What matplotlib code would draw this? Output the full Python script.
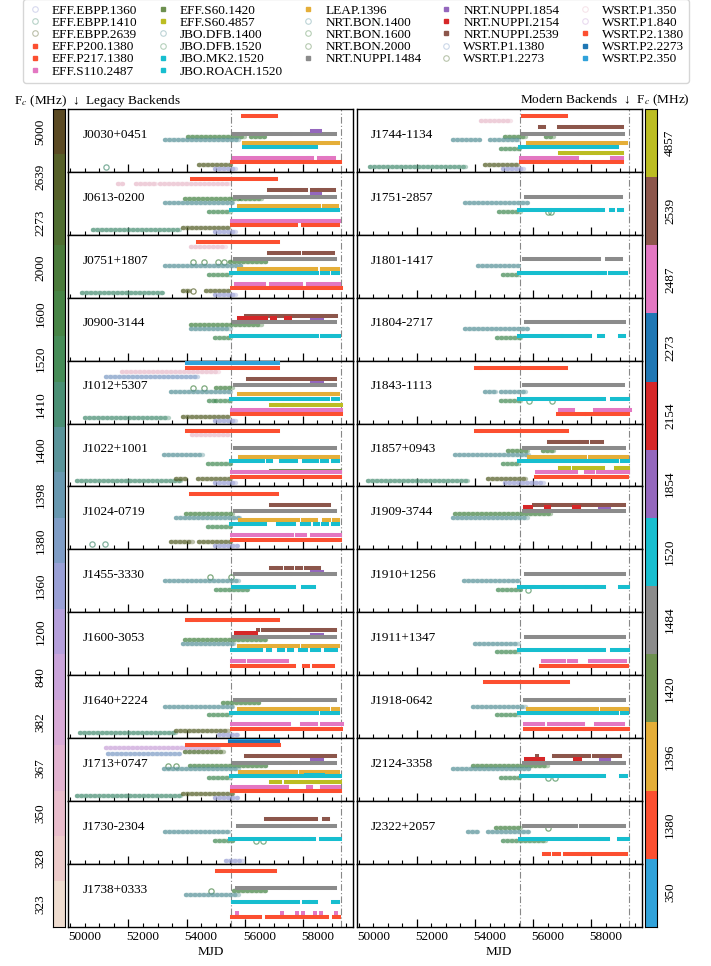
import numpy as np
import matplotlib.pyplot as plt
from matplotlib.colors import ListedColormap
from matplotlib.lines import Line2D
from matplotlib.ticker import FixedLocator, MultipleLocator, NullFormatter, FuncFormatter

plt.rcParams['font.family'] = ['Liberation Serif', 'DejaVu Serif']
plt.rcParams['mathtext.fontset'] = 'stix'
plt.rcParams['font.size'] = 9.5

# centre frequencies shown in the two colour bars
LEGACY_FREQS = [5000, 2639, 2273, 2000, 1600, 1520, 1410, 1400, 1398,
                1380, 1360, 1200, 840, 382, 367, 350, 328, 323]
LEGACY_COLORS = ['#5b4a23', '#566028', '#4f6d30', '#4a7a3a', '#478445', '#468c57',
                 '#4a8f74', '#5a949a', '#6898b0', '#7f9dc6', '#9aa0d6', '#b59fdb',
                 '#caa4da', '#d8aad6', '#e2b3d0', '#e9bdcc', '#eccac9', '#eedccf']
MODERN_FREQS = [4857, 2539, 2487, 2273, 2154, 1854, 1520, 1484, 1420, 1396, 1380, 350]
MODERN_COLORS = ['#bcbd22', '#8c564b', '#e377c2', '#1f77b4', '#d62728', '#9467bd',
                 '#17becf', '#8b8b8b', '#6d904f', '#e5ae38', '#fc4f30', '#30a2da']

BACKENDS = ['EFF.EBPP.1360', 'EFF.EBPP.1410', 'EFF.EBPP.2639', 'EFF.P200.1380',
            'EFF.P217.1380', 'EFF.S110.2487', 'EFF.S60.1420', 'EFF.S60.4857',
            'JBO.DFB.1400', 'JBO.DFB.1520', 'JBO.MK2.1520', 'JBO.ROACH.1520',
            'LEAP.1396', 'NRT.BON.1400', 'NRT.BON.1600', 'NRT.BON.2000',
            'NRT.NUPPI.1484', 'NRT.NUPPI.1854', 'NRT.NUPPI.2154', 'NRT.NUPPI.2539',
            'WSRT.P1.1380', 'WSRT.P1.2273', 'WSRT.P1.350', 'WSRT.P1.840',
            'WSRT.P2.1380', 'WSRT.P2.2273', 'WSRT.P2.350']
LEGACY = ('EFF.EBPP', 'JBO.DFB', 'NRT.BON', 'WSRT.P1')

XTICK_LABELS = [50000, 52000, 54000, 56000, 58000]
LONG_TICKS = [51500, 53500, 55500, 57500]
ERA_LINES = [55040, 58810]

# observation spans (start MJD, end MJD) per backend
J0030 = {'WSRT.P2.1380': [(55450, 56570)],
         'NRT.NUPPI.1484': [(55140, 57060), (57110, 58600)],
         'NRT.NUPPI.1854': [(57800, 58090)],
         'NRT.BON.1600': [(53550, 55500), (55700, 56200)],
         'NRT.BON.1400': [(52740, 55310)],
         'LEAP.1396': [(55460, 57370), (57430, 57770), (57860, 58710)],
         'JBO.ROACH.1520': [(55460, 56230), (56290, 56910), (56970, 57260), (57320, 57720), (57800, 57940)],
         'EFF.S110.2487': [(55140, 57660), (57720, 57830), (58040, 58290), (58380, 58570)],
         'EFF.P217.1380': [(55060, 57370), (57430, 58120), (58150, 58770)],
         'EFF.EBPP.2639': [(53940, 55030)],
         'EFF.EBPP.1410': [(50720, 50720)],
         'EFF.EBPP.1360': [(54460, 55200)]}
J0613 = {'WSRT.P2.1380': [(53690, 56570)],
         'WSRT.P1.350': [(51140, 51310), (51750, 52460), (52570, 54970)],
         'NRT.NUPPI.2539': [(56320, 57370), (57490, 57600), (57800, 58000), (58080, 58570)],
         'NRT.NUPPI.1854': [(57830, 58080)],
         'NRT.NUPPI.1484': [(55170, 57030), (57120, 58610)],
         'NRT.BON.1600': [(53430, 55310), (55370, 56110)],
         'NRT.BON.1400': [(52740, 55090)],
         'LEAP.1396': [(55310, 57370), (57490, 57690), (57830, 58040), (58230, 58690)],
         'JBO.ROACH.1520': [(55030, 57350), (57460, 57690), (57800, 58040), (58170, 58380), (58490, 58720)],
         'JBO.DFB.1520': [(54260, 55030)],
         'EFF.S110.2487': [(55060, 57490), (57540, 57620), (57720, 58740)],
         'EFF.P217.1380': [(55060, 57260), (57490, 58720)],
         'EFF.EBPP.1410': [(50290, 53260)],
         'EFF.EBPP.2639': [(53370, 54970)],
         'EFF.EBPP.1360': [(54460, 55200)]}
J0751 = {'WSRT.P2.1380': [(53890, 56630)],
         'WSRT.P1.350': [(53660, 54860)],
         'NRT.NUPPI.2539': [(56320, 57370), (57540, 58170), (58290, 58520)],
         'NRT.NUPPI.1484': [(55170, 57030), (57120, 58610)],
         'NRT.BON.1600': [(53710, 53710), (54110, 54110), (54570, 54570), (54800, 54800), (55000, 56230)],
         'NRT.BON.1400': [(52740, 55370)],
         'LEAP.1396': [(55310, 57320), (57430, 57660), (57830, 57940), (58170, 58720)],
         'JBO.ROACH.1520': [(55010, 57320), (57460, 57660), (57810, 58000), (58170, 58380), (58520, 58720)],
         'JBO.DFB.1520': [(54260, 55030)],
         'EFF.S110.2487': [(55200, 55890), (55950, 56170), (56420, 56690), (56740, 56920), (57030, 57430), (57660, 58740)],
         'EFF.P217.1380': [(55060, 57430), (57490, 58800)],
         'EFF.EBPP.1410': [(49890, 52690)],
         'EFF.EBPP.2639': [(53370, 53600), (53710, 53710), (54170, 54970)],
         'EFF.EBPP.1360': [(54460, 55200)]}
J0900 = {'NRT.NUPPI.2539': [(55540, 58630)],
         'NRT.NUPPI.2154': [(55290, 55750), (55790, 56230), (56430, 56550), (56920, 57050)],
         'NRT.NUPPI.1854': [(57810, 58170)],
         'NRT.NUPPI.1484': [(55140, 57030), (57120, 58610)],
         'NRT.BON.1600': [(53660, 56110)],
         'NRT.BON.1400': [(53660, 55030)],
         'JBO.ROACH.1520': [(55030, 57690), (57810, 57970), (58150, 58420), (58520, 58740)],
         'JBO.DFB.1520': [(54460, 55030)]}
J1012 = {'WSRT.P2.350': [(53520, 53600), (53700, 53800), (53900, 56660)],
         'WSRT.P2.1380': [(53520, 56630)],
         'WSRT.P1.350': [(51260, 54630)],
         'WSRT.P1.1380': [(50740, 53890)],
         'NRT.NUPPI.2539': [(55600, 58610)],
         'NRT.NUPPI.1854': [(57810, 58170)],
         'NRT.NUPPI.1484': [(55170, 57030), (57120, 58610)],
         'NRT.BON.1600': [(53710, 53710), (54110, 54110), (54510, 55090)],
         'NRT.BON.1400': [(52970, 55030)],
         'LEAP.1396': [(55310, 57340), (57430, 57690), (57830, 57970), (58120, 58420), (58490, 58720)],
         'JBO.ROACH.1520': [(55010, 57340), (57460, 57660), (57810, 58380), (58520, 58720)],
         'JBO.DFB.1520': [(54260, 54490), (54510, 55030)],
         'EFF.S60.4857': [(56400, 56550), (56630, 56770), (56860, 58800)],
         'EFF.S110.2487': [(55060, 57080), (57200, 57600), (57720, 58800)],
         'EFF.P217.1380': [(55060, 58800)],
         'EFF.EBPP.1410': [(50000, 52910)],
         'EFF.EBPP.2639': [(53370, 54970)],
         'EFF.EBPP.1360': [(54460, 55200)]}
J1022 = {'WSRT.P2.1380': [(53520, 53620), (53690, 56630)],
         'WSRT.P1.350': [(53690, 54970)],
         'NRT.NUPPI.1484': [(55180, 57080), (57140, 58600)],
         'NRT.BON.1400': [(52720, 54060)],
         'LEAP.1396': [(55320, 57370), (57430, 57720), (57830, 58710)],
         'JBO.ROACH.1520': [(55030, 56120), (56290, 56400), (56740, 57260), (57540, 57660), (57830, 58000), (58170, 58340), (58520, 58710)],
         'JBO.DFB.1520': [(54230, 55030)],
         'EFF.S60.1420': [(56400, 56570), (56630, 56740), (56860, 57540), (57660, 58520), (58610, 58770)],
         'EFF.S110.2487': [(55060, 58770)],
         'EFF.P217.1380': [(55060, 58770)],
         'EFF.EBPP.1410': [(49740, 53310)],
         'EFF.EBPP.2639': [(53140, 53490), (53890, 55030)],
         'EFF.EBPP.1360': [(54460, 55200)]}
J1024 = {'WSRT.P2.1380': [(53660, 56600)],
         'NRT.NUPPI.2539': [(56400, 58120), (58260, 58400)],
         'NRT.NUPPI.1484': [(55180, 57060), (57100, 58600)],
         'NRT.BON.1600': [(53490, 55090)],
         'NRT.BON.1400': [(53140, 55320)],
         'LEAP.1396': [(55320, 57320), (57490, 57660), (57770, 57940), (58230, 58400), (58570, 58710)],
         'JBO.ROACH.1520': [(55030, 56210), (56630, 56740), (56860, 57200), (57460, 57720), (57910, 58030), (58200, 58340), (58520, 58710)],
         'JBO.DFB.1520': [(54230, 55030)],
         'EFF.S110.2487': [(55060, 56940), (57000, 57140), (57290, 57570), (57800, 57940), (58080, 58460), (58550, 58770)],
         'EFF.P217.1380': [(55060, 56660), (56740, 57710), (57830, 58770)],
         'EFF.EBPP.1410': [(50260, 50260), (50690, 50690)],
         'EFF.EBPP.2639': [(52970, 53710), (53940, 55030)],
         'EFF.EBPP.1360': [(54460, 55260)]}
J1455 = {'NRT.NUPPI.2539': [(56400, 56570), (56630, 56740), (56920, 57120), (57290, 57430), (57620, 58040)],
         'NRT.NUPPI.1854': [(57810, 58150)],
         'NRT.NUPPI.1484': [(55180, 57060), (57130, 58600)],
         'NRT.BON.1600': [(54290, 54290), (55030, 55030)],
         'NRT.BON.1400': [(52740, 55310)],
         'JBO.ROACH.1520': [(55090, 55640), (55720, 57200), (57490, 57660), (57770, 57890)],
         'JBO.DFB.1520': [(54510, 55600)]}
J1600 = {'WSRT.P2.1380': [(53520, 53660), (53690, 53830), (53890, 56630)],
         'NRT.NUPPI.2539': [(55940, 55940), (56140, 58610)],
         'NRT.NUPPI.2154': [(55200, 55890)],
         'NRT.NUPPI.1854': [(57810, 58170)],
         'NRT.NUPPI.1484': [(55140, 57030), (57120, 58610)],
         'NRT.BON.1600': [(53430, 56230)],
         'NRT.BON.1400': [(53370, 55140)],
         'LEAP.1396': [(55310, 57320), (57490, 57720), (57860, 58060), (58170, 58720)],
         'JBO.ROACH.1520': [(55060, 56060), (56290, 56370), (56690, 56830), (57030, 57120), (57400, 57600), (57830, 58060), (58290, 58430), (58520, 58630)],
         'EFF.S110.2487': [(55060, 55490), (55660, 56970)],
         'EFF.P217.1380': [(55060, 57200), (57540, 57690), (57890, 58520)]}
J1640 = {'NRT.NUPPI.1484': [(55170, 57030), (57120, 58610)],
         'NRT.BON.1600': [(54740, 56000)],
         'NRT.BON.1400': [(52740, 55090)],
         'LEAP.1396': [(55310, 57320), (57430, 57660), (57830, 58040), (58140, 58380), (58520, 58720)],
         'JBO.ROACH.1520': [(55030, 57320), (57430, 57690), (57810, 58000), (58170, 58380), (58490, 58720)],
         'JBO.DFB.1520': [(54260, 55030)],
         'EFF.S110.2487': [(55060, 56000), (56060, 57030), (57460, 57660), (57720, 57940), (58170, 58460), (58570, 58860)],
         'EFF.P217.1380': [(55060, 58800)],
         'EFF.EBPP.1410': [(49830, 53140)],
         'EFF.EBPP.2639': [(53140, 54970)],
         'EFF.EBPP.1360': [(54630, 55260)]}
J1713 = {'WSRT.P2.350': [(55000, 56660)],
         'WSRT.P2.2273': [(55000, 56660)],
         'WSRT.P2.1380': [(53520, 53660), (53720, 56690)],
         'WSRT.P1.840': [(50740, 54630)],
         'WSRT.P1.2273': [(53430, 54800)],
         'WSRT.P1.1380': [(50800, 53260)],
         'NRT.NUPPI.2539': [(55540, 55890), (55980, 58600)],
         'NRT.NUPPI.1854': [(57810, 58150)],
         'NRT.NUPPI.1484': [(55140, 57030), (57080, 58600)],
         'NRT.BON.1600': [(52860, 52860), (53140, 53140), (53600, 56230)],
         'NRT.BON.1400': [(52720, 55310)],
         'LEAP.1396': [(55320, 57260), (57430, 57720), (57830, 58710)],
         'JBO.MK2.1520': [(57600, 58200)],
         'JBO.ROACH.1520': [(55030, 58770)],
         'JBO.DFB.1520': [(54260, 55030)],
         'EFF.S60.4857': [(56400, 56550), (56600, 56720), (56910, 58770)],
         'EFF.S110.2487': [(55060, 56970), (57660, 57770), (58150, 58740)],
         'EFF.P217.1380': [(55060, 58770)],
         'EFF.EBPP.1410': [(49740, 53310)],
         'EFF.EBPP.2639': [(53370, 55090)],
         'EFF.EBPP.1360': [(54460, 55260)]}
J1730 = {'NRT.NUPPI.2539': [(56230, 57940), (58230, 58380)],
         'NRT.NUPPI.1484': [(55260, 57030), (57110, 58600)],
         'NRT.BON.1400': [(52770, 54970)],
         'JBO.ROACH.1520': [(55000, 57430), (57540, 57660), (57770, 57890), (58120, 58770)],
         'JBO.DFB.1520': [(54490, 55090), (55890, 55890), (56120, 56120)],
         'EFF.EBPP.1360': [(54860, 55430)]}
J1738 = {'WSRT.P2.1380': [(54540, 56540)],
         'NRT.NUPPI.1484': [(55230, 57000), (57090, 58600)],
         'NRT.BON.1600': [(54340, 54340), (55140, 56230)],
         'NRT.BON.1400': [(53490, 55310)],
         'JBO.ROACH.1520': [(55090, 57320), (57540, 57660), (57770, 57940), (58520, 58710)],
         'EFF.S110.2487': [(55230, 55230), (56770, 56770), (57290, 57290), (57520, 57520), (57920, 57920), (58140, 58140), (58630, 58630)],
         'EFF.P217.1380': [(55060, 56020), (56260, 58340), (58570, 58740)]}
J1744 = {'WSRT.P2.1380': [(55150, 56630)],
         'WSRT.P1.350': [(53720, 54740)],
         'NRT.NUPPI.2539': [(55740, 55870), (56380, 57120), (57200, 58570)],
         'NRT.NUPPI.1484': [(55150, 57030), (57120, 58600)],
         'NRT.BON.1600': [(54520, 55260), (55940, 56230)],
         'NRT.BON.1400': [(52740, 53660), (54000, 55030)],
         'LEAP.1396': [(55320, 57720), (57870, 58690)],
         'JBO.ROACH.1520': [(55050, 57340), (57450, 57720), (57800, 58060), (58170, 58380)],
         'JBO.DFB.1520': [(54400, 55050)],
         'EFF.S60.4857': [(56420, 56550), (56610, 56720), (56880, 57620), (57770, 58550)],
         'EFF.S110.2487': [(55090, 57000), (58230, 58570)],
         'EFF.P217.1380': [(55090, 57200), (57290, 58570)],
         'EFF.EBPP.1410': [(49890, 53200)],
         'EFF.EBPP.2639': [(53830, 54970)],
         'EFF.EBPP.1360': [(54460, 55200)]}
J1751 = {'NRT.NUPPI.1484': [(55260, 57030), (57120, 58520)],
         'NRT.BON.1400': [(53140, 55320)],
         'JBO.ROACH.1520': [(55030, 56060), (56200, 56340), (56480, 57320), (57460, 57690), (57770, 57920), (58170, 58260), (58460, 58570)],
         'JBO.DFB.1520': [(54320, 55090), (56000, 56000), (56120, 56120)]}
J1801 = {'NRT.NUPPI.1484': [(55180, 57030), (57140, 57770), (58030, 58520)],
         'NRT.BON.1400': [(53600, 55030)],
         'JBO.ROACH.1520': [(55030, 57320), (57460, 57690), (57770, 57970), (58150, 58690)],
         'JBO.DFB.1520': [(54460, 55030)]}
J1804 = {'NRT.NUPPI.1484': [(55260, 57060), (57120, 58610)],
         'NRT.BON.1400': [(53140, 55320)],
         'JBO.ROACH.1520': [(55030, 56460), (56520, 57320), (57350, 57460), (57770, 57920), (58490, 58630)],
         'JBO.DFB.1520': [(54240, 55090)]}
J1843 = {'WSRT.P2.1380': [(53540, 53660), (53720, 56630)],
         'NRT.NUPPI.1484': [(55180, 57030), (57170, 58600)],
         'NRT.BON.1400': [(53830, 54230), (54400, 55260)],
         'JBO.ROACH.1520': [(55030, 57690), (57770, 57940), (58230, 58340), (58490, 58750)],
         'JBO.DFB.1520': [(54400, 55090), (55370, 55370), (56140, 56140)],
         'EFF.S110.2487': [(56440, 56860), (57640, 58820)],
         'EFF.P217.1380': [(56370, 57260), (57370, 57720), (57800, 58750)]}
J1857 = {'WSRT.P2.1380': [(53540, 53660), (53720, 56670)],
         'NRT.NUPPI.2539': [(56060, 57030), (57140, 57370), (57520, 57860)],
         'NRT.NUPPI.1484': [(55180, 57030), (57120, 58610)],
         'NRT.BON.1600': [(54630, 55320), (55830, 56230)],
         'NRT.BON.1400': [(52800, 55370)],
         'LEAP.1396': [(55370, 57290), (57460, 57690), (57810, 57970), (58060, 58400), (58520, 58720)],
         'JBO.ROACH.1520': [(55030, 57320), (57430, 57720), (57810, 58060), (58170, 58400), (58570, 58750)],
         'JBO.DFB.1520': [(54460, 55030)],
         'EFF.S60.4857': [(56440, 56550), (56600, 56720), (56920, 57890), (58350, 58460), (58520, 58750)],
         'EFF.S110.2487': [(55640, 56980), (57320, 57550), (57720, 58120), (58180, 58750)],
         'EFF.P217.1380': [(55600, 57200), (57260, 58720)],
         'EFF.EBPP.1410': [(49830, 53260)],
         'EFF.EBPP.2639': [(53950, 55260)],
         'EFF.EBPP.1360': [(54520, 55890)]}
J1909 = {'NRT.NUPPI.2539': [(55540, 58610)],
         'NRT.NUPPI.2154': [(55230, 55430), (55940, 56060), (56920, 57090)],
         'NRT.NUPPI.1854': [(57810, 58120)],
         'NRT.NUPPI.1484': [(55200, 57030), (57120, 58610)],
         'NRT.BON.1600': [(52800, 56110)],
         'NRT.BON.1400': [(52740, 55320)]}
J1910 = {'NRT.NUPPI.1484': [(55260, 57000), (57120, 58610)],
         'NRT.BON.1400': [(53120, 55030)],
         'JBO.ROACH.1520': [(55030, 55490), (55540, 56480), (56550, 57320), (57350, 57460), (57510, 57690), (57770, 57940), (58490, 58770)],
         'JBO.DFB.1520': [(54290, 55090), (55320, 55320)]}
J1911 = {'NRT.NUPPI.1484': [(55260, 57000), (57140, 58610)],
         'NRT.BON.1400': [(53490, 55030)],
         'JBO.ROACH.1520': [(55030, 57690), (57830, 57940), (58230, 58460), (58570, 58770)],
         'JBO.DFB.1520': [(54240, 55030)],
         'EFF.S110.2487': [(55830, 56550), (56720, 56980), (57440, 57580), (57640, 58660)],
         'EFF.P217.1380': [(55770, 58720)]}
J1918 = {'WSRT.P2.1380': [(53860, 56690)],
         'NRT.NUPPI.1484': [(55230, 57060), (57120, 58610)],
         'NRT.BON.1400': [(53430, 55260)],
         'LEAP.1396': [(55320, 57290), (57430, 57690), (57860, 58090), (58200, 58400), (58520, 58720)],
         'JBO.ROACH.1520': [(55030, 57290), (57430, 57690), (57800, 58060), (58170, 58400), (58550, 58720)],
         'JBO.DFB.1520': [(54240, 55030)],
         'EFF.S110.2487': [(55220, 55850), (56050, 56310), (56390, 56600), (56710, 56880), (56990, 57230), (57660, 57770), (57890, 58600)],
         'EFF.P217.1380': [(55220, 57240), (57300, 58170), (58230, 58780)]}
J2124 = {'NRT.NUPPI.2539': [(55620, 55620), (56230, 56840), (56950, 57410), (57600, 58120), (58210, 58480)],
         'NRT.NUPPI.2154': [(55240, 55850), (56950, 57110)],
         'NRT.NUPPI.1854': [(57830, 58120)],
         'NRT.NUPPI.1484': [(55170, 57030), (57120, 58630)],
         'NRT.BON.1600': [(53430, 56000)],
         'NRT.BON.1400': [(52740, 55350)],
         'JBO.ROACH.1520': [(55090, 56520), (56660, 57340), (57450, 57680), (57770, 57940), (58520, 58710)],
         'JBO.DFB.1520': [(54400, 55050), (56000, 56000), (56260, 56260)]}
J2322 = {'NRT.NUPPI.1484': [(55200, 56970), (57150, 58630)],
         'NRT.BON.1600': [(54230, 55090), (56000, 56000)],
         'NRT.BON.1400': [(53260, 53600), (53950, 55370)],
         'JBO.ROACH.1520': [(55050, 56990), (57060, 57720), (57830, 58060), (58460, 58780)],
         'JBO.DFB.1520': [(54460, 55940)],
         'EFF.P217.1380': [(55890, 56030), (56230, 56380), (56610, 57030), (57090, 57200), (57260, 57410), (57490, 58320), (58440, 58710)]}

LEFT = [('J0030+0451', J0030), ('J0613-0200', J0613), ('J0751+1807', J0751),
        ('J0900-3144', J0900), ('J1012+5307', J1012), ('J1022+1001', J1022),
        ('J1024-0719', J1024), ('J1455-3330', J1455), ('J1600-3053', J1600),
        ('J1640+2224', J1640), ('J1713+0747', J1713), ('J1730-2304', J1730),
        ('J1738+0333', J1738)]
RIGHT = [('J1744-1134', J1744), ('J1751-2857', J1751), ('J1801-1417', J1801),
         ('J1804-2717', J1804), ('J1843-1113', J1843), ('J1857+0943', J1857),
         ('J1909-3744', J1909), ('J1910+1256', J1910), ('J1911+1347', J1911),
         ('J1918-0642', J1918), ('J2124-3358', J2124), ('J2322+2057', J2322),
         (None, {})]

# vertical slot of each backend inside a panel (0 = top, 63 = bottom)
ROW_Y = {'WSRT.P2.350': 2.7, 'WSRT.P2.2273': 4.2, 'WSRT.P2.1380': 7.4,
         'WSRT.P1.840': 9.7, 'WSRT.P1.350': 11.8, 'WSRT.P1.2273': 14.0, 'WSRT.P1.1380': 16.0,
         'NRT.NUPPI.2539': 18.3, 'NRT.NUPPI.2154': 20.6, 'NRT.NUPPI.1854': 22.5,
         'NRT.NUPPI.1484': 24.7, 'NRT.BON.1600': 27.6, 'NRT.BON.2000': 29.0,
         'NRT.BON.1400': 31.5, 'LEAP.1396': 33.8, 'JBO.MK2.1520': 37.0,
         'JBO.ROACH.1520': 38.0, 'JBO.DFB.1520': 40.3, 'JBO.DFB.1400': 41.0,
         'EFF.S60.4857': 44.5, 'EFF.S60.1420': 47.2, 'EFF.S110.2487': 49.0,
         'EFF.P200.1380': 53.5, 'EFF.P217.1380': 53.5, 'EFF.EBPP.2639': 56.0,
         'EFF.EBPP.1410': 57.8, 'EFF.EBPP.1360': 60.0}


def is_legacy(b):
    return b.rsplit('.', 1)[0] in LEGACY


def color_of(b):
    f = int(b.rsplit('.', 1)[1])
    if is_legacy(b):
        return LEGACY_COLORS[LEGACY_FREQS.index(f)]
    return MODERN_COLORS[MODERN_FREQS.index(f)]


def draw_backend(ax, b, spans):
    y = ROW_Y[b]
    c = color_of(b)
    starts = [s for s, e in spans]
    ends = [e for s, e in spans]
    single = [s for s, e in spans if s == e]
    if is_legacy(b):
        ax.hlines([y] * len(spans), starts, ends, colors=c, lw=3.2, alpha=0.4,
                  capstyle='round', zorder=2)
        ax.hlines([y] * len(spans), starts, ends, colors=c, lw=3.2, alpha=0.55,
                  linestyles=[(0, (0.1, 0.9))], capstyle='round', zorder=2)
        ax.plot(single, [y] * len(single), 'o', ms=3.8, mfc='none', mec=c, mew=0.9,
                alpha=0.7, zorder=2)
    else:
        ax.hlines([y] * len(spans), starts, ends, colors=c, lw=2.9,
                  capstyle='projecting', zorder=3)
        ax.plot(single, [y] * len(single), 's', ms=2.9, color=c, mew=0, zorder=3)


fig = plt.figure(figsize=(7.11, 9.66), dpi=100)
top, bottom = 1 - 109 / 966, 1 - 926.7 / 966
h = (top - bottom) / 13

for x0, pulsars in [(0.0961, LEFT), (0.5017, RIGHT)]:
    for i, (name, data) in enumerate(pulsars):
        ax = fig.add_axes([x0, top - (i + 1) * h, 0.401, h])
        for b, spans in data.items():
            draw_backend(ax, b, spans)
        for m in ERA_LINES:
            ax.axvline(m, color='#888888', lw=0.8, ls=(0, (6, 2, 1, 2)), zorder=1)
        if name:
            ax.text(0.05, 0.59, name, transform=ax.transAxes, va='center', fontsize=9.5)
        ax.set_xlim(49430, 59240)
        ax.set_ylim(63, 0)
        ax.set_yticks([])
        ax.xaxis.set_major_locator(FixedLocator(LONG_TICKS))
        ax.xaxis.set_major_formatter(NullFormatter())
        ax.xaxis.set_minor_locator(MultipleLocator(500))
        if i == 12:
            ax.xaxis.set_minor_formatter(FuncFormatter(
                lambda v, p: f'{v:.0f}' if round(v) in XTICK_LABELS else ''))
            ax.set_xlabel('MJD', fontsize=9.5, labelpad=2)
        else:
            ax.xaxis.set_minor_formatter(NullFormatter())
        ax.tick_params(which='major', direction='in', length=6, width=0.9)
        ax.tick_params(which='minor', direction='in', length=3, width=0.8, labelsize=9.5)
        for sp in ax.spines.values():
            sp.set_linewidth(1.0)


def colorbar(rect, colors, freqs, side):
    cax = fig.add_axes(rect)
    n = len(colors)
    cax.imshow(np.arange(n)[:, None], cmap=ListedColormap(colors), aspect='auto',
               extent=(0, 1, n, 0), interpolation='nearest')
    cax.set_xticks([])
    cax.set_yticks(np.arange(n) + 0.5)
    cax.set_yticklabels([str(f) for f in freqs])
    left = side == 'left'
    cax.tick_params(axis='y', length=0, pad=5, labelsize=9.5, left=left, labelleft=left,
                    right=not left, labelright=not left)
    for t in cax.get_yticklabels():
        t.set_rotation(90)
        t.set_va('center')
        t.set_ha('right' if left else 'left')


colorbar([53.3 / 711, bottom, 11.6 / 711, top - bottom], LEGACY_COLORS, LEGACY_FREQS, 'left')
colorbar([645 / 711, bottom, 12.3 / 711, top - bottom], MODERN_COLORS, MODERN_FREQS, 'right')

fig.text(14 / 711, 1 - 100.7 / 966, 'F$_c$ (MHz)  \u2193  Legacy Backends',
         ha='left', va='center', fontsize=9.5)
fig.text(690 / 711, 1 - 100.7 / 966, 'Modern Backends  \u2193  F$_c$ (MHz)',
         ha='right', va='center', fontsize=9.5)

handles = []
for b in BACKENDS:
    c = color_of(b)
    if is_legacy(b):
        handles.append(Line2D([], [], ls='none', marker='o', ms=4, mfc='none', mec=c,
                              mew=0.8, alpha=0.4))
    else:
        handles.append(Line2D([], [], ls='none', marker='s', ms=3.5, color=c))
fig.legend(handles, BACKENDS, ncol=5, loc='lower center',
           bbox_to_anchor=(0.5007, 1 - 83 / 966), fontsize=9.5, handlelength=1.0,
           handletextpad=0.8, columnspacing=1.4, labelspacing=0.0, borderpad=0.4,
           borderaxespad=0)

fig.savefig('out.png', dpi=100)
